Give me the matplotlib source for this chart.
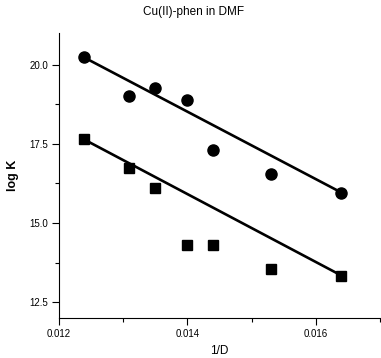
import numpy as np
import matplotlib
matplotlib.use("Agg")
import matplotlib.pyplot as plt
from matplotlib.ticker import MultipleLocator

plt.rcParams['font.family'] = ['Liberation Sans', 'DejaVu Sans']

inv_D = [0.01239, 0.01309, 0.01349, 0.01400, 0.01440, 0.01530, 0.01640]
logK_circle = [20.23, 19.00, 19.27, 18.90, 17.31, 16.54, 15.94]
logK_square = [17.66, 16.74, 16.10, 14.29, 14.29, 13.55, 13.34]

# fitted line endpoints as drawn in the reference
fit_x = [0.01239, 0.01640]
fit_circle = [20.23, 15.96]
fit_square = [17.64, 13.34]

fig = plt.figure(figsize=(3.81, 3.58), dpi=100)
ax = fig.add_axes([59/381, 1-318/358, 321/381, 285/358])

ax.plot(fit_x, fit_circle, color='black', lw=1.9, zorder=2)
ax.plot(fit_x, fit_square, color='black', lw=1.9, zorder=2)
ax.plot(inv_D, logK_circle, linestyle='none', marker='o', color='black', ms=8, zorder=3)
ax.plot(inv_D, logK_square, linestyle='none', marker='s', color='black', ms=7, zorder=3)

ax.set_xlim(0.012, 0.017)
ax.set_ylim(12.0, 21.0)
ax.xaxis.set_major_locator(MultipleLocator(0.002))
ax.xaxis.set_minor_locator(MultipleLocator(0.001))
ax.yaxis.set_major_locator(MultipleLocator(2.5))
ax.yaxis.set_minor_locator(MultipleLocator(1.25))
ax.xaxis.set_major_formatter(plt.FuncFormatter(lambda v, p: f"{v:.3f}"))
ax.yaxis.set_major_formatter(plt.FuncFormatter(lambda v, p: f"{v:.1f}"))
ax.spines['top'].set_visible(False)
ax.spines['right'].set_visible(False)
ax.spines['left'].set_linewidth(0.8)
ax.spines['bottom'].set_linewidth(0.8)
ax.tick_params(which='major', direction='out', length=5, width=0.8, labelsize=7, pad=3)
ax.tick_params(which='minor', direction='out', length=3, width=0.8)

fig.text(194/381, 1-12/358, 'Cu(II)-phen in DMF', fontsize=8.5, ha='center', va='center')
ax.set_xlabel('1/D', fontsize=8.5, labelpad=4)
ax.set_ylabel('log K', fontsize=9, fontweight='bold', labelpad=7)

fig.savefig('out.png', dpi=100)
